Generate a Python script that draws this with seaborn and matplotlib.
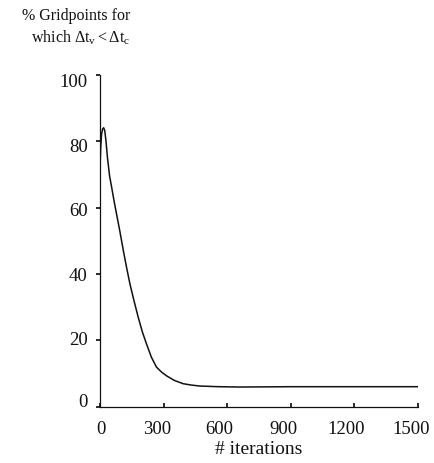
import matplotlib
matplotlib.use("Agg")
import matplotlib.pyplot as plt
import matplotlib.transforms as mtransforms
import seaborn as sns
import pandas as pd

iterations = [0, 3, 7, 12, 17, 22, 28, 35, 45, 55, 66, 78, 93, 110, 125, 141, 160, 180, 200, 219, 242, 266, 290, 313, 350, 392, 430, 470, 560, 660, 900, 1200, 1500]
percent = [72, 78, 82, 83.6, 84, 83.2, 80, 75, 69.5, 66, 62, 58, 53, 47, 42, 37, 32, 27, 22.5, 19, 15, 12, 10.5, 9.4, 8, 7, 6.6, 6.3, 6.1, 6.0, 6.1, 6.1, 6.1]
xticks = [0, 300, 600, 900, 1200, 1500]
yticks = [0, 20, 40, 60, 80, 100]

sns.set_theme(style="ticks")
plt.rcParams['font.family'] = ['Liberation Serif', 'DejaVu Serif']
plt.rcParams['mathtext.fontset'] = 'custom'
plt.rcParams['mathtext.rm'] = 'Liberation Serif'
plt.rcParams['mathtext.it'] = 'Liberation Serif'

df = pd.DataFrame({"iter": iterations, "pct": percent})

fig = plt.figure(figsize=(4.35, 4.63), dpi=100)
ax = fig.add_axes([0.230, 0.121, 0.731, 0.718])
sns.lineplot(data=df, x="iter", y="pct", ax=ax, color="#111111", linewidth=1.1)

ax.set_xlim(0, 1500)
ax.set_ylim(0, 100)
ax.set_xticks(xticks)
ax.set_yticks(yticks)
ax.tick_params(axis='x', direction='in', length=3, labelsize=13.5, pad=10, colors='#111111')
ax.tick_params(axis='y', direction='out', length=3, labelsize=13.5, pad=6, colors='#111111')
for s in ['top', 'right']:
    ax.spines[s].set_visible(False)
for s in ['left', 'bottom']:
    ax.spines[s].set_color('#111111')
    ax.spines[s].set_linewidth(0.9)
ax.set_xlabel("# iterations", fontsize=14, labelpad=2, color='#111111')
ax.set_ylabel("")

# small label nudges (pixels) to mirror the reference's typeset placement
xoff = [1, -7, -8, -7, -8, -7]
for lab, dx in zip(ax.get_xticklabels(), xoff):
    lab.set_transform(lab.get_transform() + mtransforms.ScaledTranslation(dx / 100, 0, fig.dpi_scale_trans))
yoff = [-6.5, -2, 0, 2, 4, 6]
for lab, dy in zip(ax.get_yticklabels(), yoff):
    lab.set_transform(lab.get_transform() + mtransforms.ScaledTranslation(0, -dy / 100, fig.dpi_scale_trans))

fig.text(0.175, 0.965, "% Gridpoints for", ha='center', va='center', fontsize=11.5, color='#111111')
fig.text(0.186, 0.919, r"which $\Delta \mathrm{t}_\mathrm{v} < \Delta \mathrm{t}_\mathrm{c}$", ha='center', va='center', fontsize=11.5, color='#111111')

fig.savefig("out.png", dpi=100)
